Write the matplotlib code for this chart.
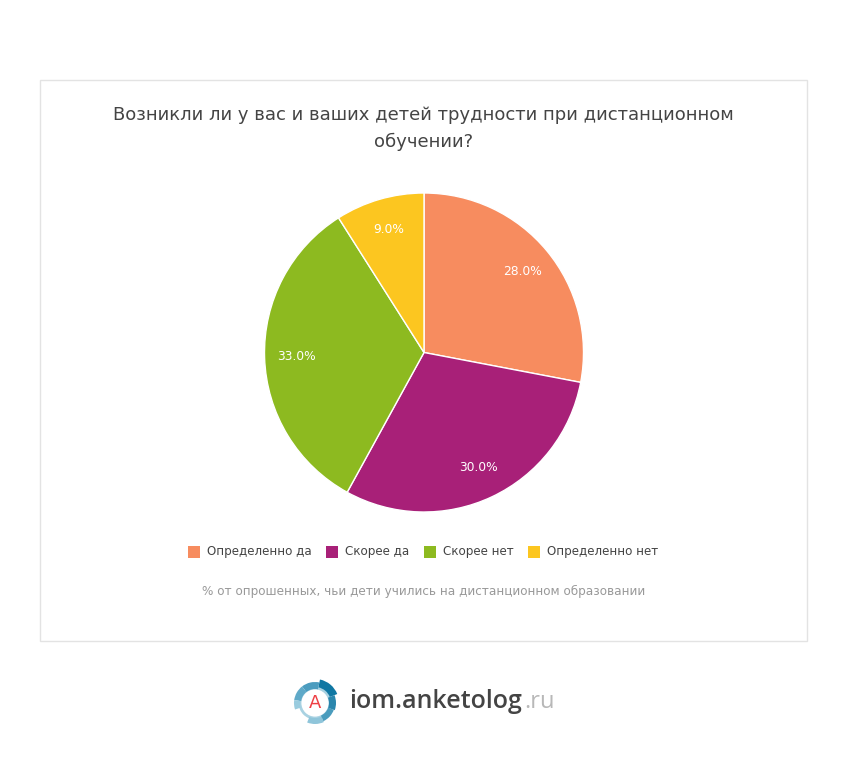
import matplotlib
matplotlib.use('Agg')
import matplotlib.pyplot as plt
from matplotlib.patches import Rectangle, Wedge, Circle

W, H = 848, 764

title = 'Возникли ли у вас и ваших детей трудности при дистанционном\nобучении?'
note = '% от опрошенных, чьи дети учились на дистанционном образовании'
labels = ['Определенно да', 'Скорее да', 'Скорее нет', 'Определенно нет']
values = [28.0, 30.0, 33.0, 9.0]
colors = ['#f78c5f', '#a82078', '#8dba20', '#fcc620']
legend_x = [188, 326, 424, 528]

fig = plt.figure(figsize=(W/100, H/100), dpi=100)
bg = fig.add_axes([0, 0, 1, 1])
bg.set_xlim(0, W)
bg.set_ylim(H, 0)
bg.axis('off')

# card
bg.add_patch(Rectangle((40, 80), 767, 561, fc='white', ec='#e3e3e3', lw=1))
bg.text(423.5, 128.5, title, ha='center', va='center', fontsize=12.98, color='#444444', linespacing=1.57)

# pie
r = 159.5
cx, cy = 424, 352.5
ax = fig.add_axes([(cx-r)/W, 1-(cy+r)/H, 2*r/W, 2*r/H])
ax.pie(values, colors=colors, startangle=90, counterclock=False, radius=1,
       autopct='%.1f%%', pctdistance=0.80,
       wedgeprops={'edgecolor': 'white', 'linewidth': 1},
       textprops={'color': 'white', 'fontsize': 8.8})
ax.set_xlim(-1, 1)
ax.set_ylim(-1, 1)

# legend
for x, lab, c in zip(legend_x, labels, colors):
    bg.add_patch(Rectangle((x, 546), 12, 12, fc=c, ec='none'))
    bg.text(x+19, 551.5, lab, ha='left', va='center', fontsize=8.53, color='#444444')

bg.text(423.5, 591.5, note, ha='center', va='center', fontsize=8.62, color='#999999')


# logo ring, y axis is flipped here so angles get negated
def ring(r_out, a1, a2, width, color):
    bg.add_patch(Wedge((lx, ly), r_out, -a2, -a1, width=width, fc=color, ec='none'))


lx, ly = 315, 703
bg.add_patch(Circle((lx, ly), 15, fc='white', ec='#a9d2e2', lw=2))
ring(24, 22, 78, 8, '#1077a3')
ring(21, 78, 128, 7, '#4b9cbf')
ring(21, 128, 172, 7, '#5fa9c8')
ring(21, 172, 198, 6, '#9accdf')
ring(21, 248, 295, 6, '#8fc5da')
ring(20, 295, 340, 6, '#4a9cbd')
ring(21, 340, 382, 7, '#2a86ad')
bg.text(lx, ly, 'A', ha='center', va='center', fontsize=13, color='#ee3f45')
bg.text(349, 701.5, 'iom.anketolog', ha='left', va='center', fontsize=18, color='#444444',
        family='Open Sans', fontweight='semibold')
bg.text(524, 702.5, '.ru', ha='left', va='center', fontsize=17, color='#b8b8b8', family='Open Sans')

fig.savefig('out.png', dpi=100)
